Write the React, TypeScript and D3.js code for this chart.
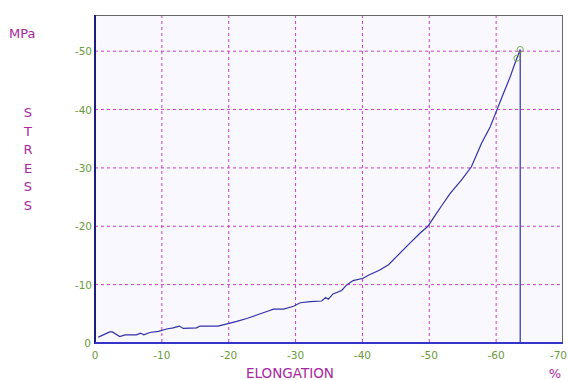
import React from 'react';
import * as d3 from 'd3';

// curve (elongation %, stress MPa, both plotted negative)
const elongation = [0.5, 2.2, 2.6, 3.7, 4.5, 6.2, 6.8, 7.3, 8.2, 9.5, 10.7, 11.7, 12.6, 13.2, 15.2, 15.7, 18.4, 20.2, 21.2, 22.7, 24.2, 25.7, 26.7, 28.2, 29.7, 30.7, 32.2, 33.9, 34.5, 34.9, 35.6, 36.9, 37.6, 38.6, 40.1, 40.9, 42.6, 43.9, 45.1, 47.1, 48.6, 49.8, 50.6, 51.9, 53.1, 54.8, 56.3, 57.8, 59.1, 60.1, 61.1, 62.1, 62.8, 63.1, 63.6];
const stress = [1.0, 1.9, 1.9, 1.1, 1.4, 1.4, 1.7, 1.4, 1.8, 2.0, 2.4, 2.6, 2.9, 2.5, 2.6, 2.9, 2.9, 3.4, 3.7, 4.2, 4.8, 5.4, 5.8, 5.8, 6.3, 6.9, 7.1, 7.2, 7.8, 7.5, 8.4, 9.0, 9.9, 10.7, 11.1, 11.6, 12.5, 13.4, 14.8, 17.1, 18.8, 20.0, 21.4, 23.6, 25.6, 27.9, 30.2, 34.2, 37.0, 39.9, 42.8, 45.6, 47.9, 48.8, 50.3];
const markers = [[63.1, 48.8], [63.6, 50.3]];
const breakAt = 63.6;

const xTicks = [0, -10, -20, -30, -40, -50, -60, -70];
const yTicks = [0, -10, -20, -30, -40, -50];
const yLetters = ['S', 'T', 'R', 'E', 'S', 'S'];

const W = 568, H = 380;
const left = 95, right = 563, top = 15, bottom = 343;

export default function App() {
  const x = d3.scaleLinear().domain([0, -70]).range([left, right]);
  const y = d3.scaleLinear().domain([0, -56.2]).range([bottom, top]);

  const pts: [number, number][] = elongation.map((e, i) => [-e, -stress[i]]);
  pts.push([-breakAt, 0]);
  const line = d3.line<[number, number]>().x(d => x(d[0])).y(d => y(d[1]));

  const tickFont = { fontFamily: 'DejaVu Sans, Verdana, sans-serif', fontSize: 10.5, fill: '#6a9a3c' };
  const labelFont = { fontFamily: 'DejaVu Sans, Verdana, sans-serif', fontSize: 13, fill: '#a8279f' };

  return (
    <svg width={W} height={H} style={{ position: 'absolute', left: 0, top: 0, background: '#fff' }}>
      <rect x={left} y={top} width={right - left} height={bottom - top} fill="#f9f8ff" />
      {xTicks.slice(1, -1).map(t => (
        <line key={'gx' + t} x1={x(t)} x2={x(t)} y1={top} y2={bottom} stroke="#cc3fc4" strokeDasharray="3,3" />
      ))}
      {yTicks.slice(1).map(t => (
        <line key={'gy' + t} x1={left} x2={right} y1={y(t)} y2={y(t)} stroke="#cc3fc4" strokeDasharray="3,3" />
      ))}
      <path d={line(pts) || ''} fill="none" stroke="#3030a8" strokeWidth={1.2} />
      {markers.map((m, i) => (
        <circle key={i} cx={x(-m[0])} cy={y(-m[1])} r={3} fill="none" stroke="#7aab4e" strokeWidth={1} />
      ))}
      <line x1={left} x2={right} y1={top + 0.5} y2={top + 0.5} stroke="#666" />
      <line x1={right - 0.5} x2={right - 0.5} y1={top} y2={bottom} stroke="#666" />
      <line x1={left} x2={left} y1={top} y2={bottom + 1} stroke="#1c1c7a" strokeWidth={2} />
      <line x1={left} x2={right} y1={bottom} y2={bottom} stroke="#3434c8" strokeWidth={2} />
      {xTicks.map((t, i) => {
        const last = i === xTicks.length - 1;
        return (
          <text key={'tx' + t} x={last ? 567 : x(t)} y={359} textAnchor={last ? 'end' : 'middle'} {...tickFont}>{t}</text>
        );
      })}
      {yTicks.map(t => (
        <text key={'ty' + t} x={t === 0 ? 91 : 92} y={y(t) + 4} textAnchor="end" {...tickFont}>{t}</text>
      ))}
      <text x={9} y={38} {...labelFont}>MPa</text>
      {yLetters.map((c, i) => (
        <text key={'l' + i} x={28} y={117 + i * 18.5} textAnchor="middle" {...labelFont}>{c}</text>
      ))}
      <text x={290} y={378} textAnchor="middle" {...labelFont} fontSize={13.5}>ELONGATION</text>
      <text x={555} y={378} textAnchor="middle" {...labelFont}>%</text>
    </svg>
  );
}
